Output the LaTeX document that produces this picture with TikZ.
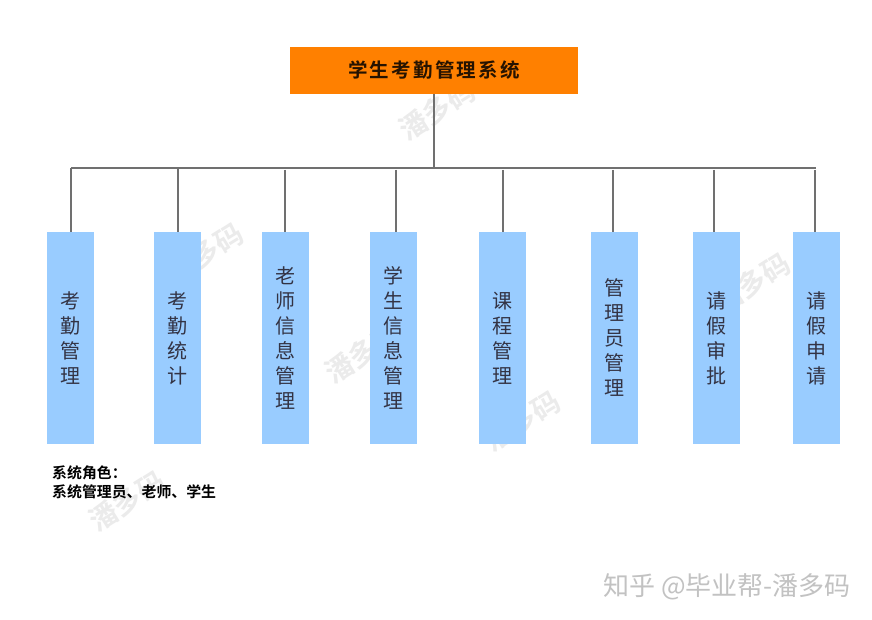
\documentclass[tikz,border=0pt]{standalone}
\usepackage{fontspec}
\setmainfont{Noto Sans CJK SC}
\newfontfamily\cjkbold{Noto Sans CJK SC Bold}
\definecolor{rootfill}{HTML}{FF8000}
\definecolor{leaffill}{HTML}{99CCFF}
\definecolor{linegray}{HTML}{707070}
\definecolor{leaftext}{HTML}{333344}
\definecolor{stampgray}{HTML}{EBEBEB}
\tikzset{
  rootbox/.style={fill=rootfill,minimum width=288pt,minimum height=47pt,inner sep=0pt,font=\cjkbold\fontsize{19.5pt}{24pt}\selectfont,text=black!85!rootfill},
  leafbox/.style={fill=leaffill,minimum width=47.5pt,minimum height=212pt,inner sep=0pt,align=center,text=leaftext,font=\fontsize{20pt}{25pt}\selectfont},
  conn/.style={draw=linegray,line width=1.5pt},
  stamp/.style={rotate=32,text=stampgray,font=\cjkbold\fontsize{28pt}{30pt}\selectfont,inner sep=0pt},
  note/.style={anchor=north west,align=left,inner sep=0pt,font=\cjkbold\fontsize{14.9pt}{19pt}\selectfont},
  credit/.style={text=black!24,inner sep=0pt,font=\fontsize{26pt}{28pt}\selectfont}
}
\begin{document}
\begin{tikzpicture}[x=1pt,y=-1pt]
\useasboundingbox (0,0) rectangle (872,620);
\fill[white] (0,0) rectangle (872,620);
\node[stamp] (s1) at (437,110) {潘多码};
\node[stamp] (s2) at (205,253) {潘多码};
\node[stamp] (s3) at (363,353) {潘多码};
\node[stamp] (s4) at (522,421) {潘多码};
\node[stamp] (s5) at (127,501) {潘多码};
\node[stamp] (s6) at (752,283) {潘多码};
\node[rootbox] (root) at (434,70.5) {学\kern2.2pt 生\kern2.2pt 考\kern2.2pt 勤\kern2.2pt 管\kern2.2pt 理\kern2.2pt 系\kern2.2pt 统};
\node[leafbox] (l1) at (70.5,338) {考\\勤\\管\\理};
\node[leafbox] (l2) at (177.5,338) {考\\勤\\统\\计};
\node[leafbox] (l3) at (285.5,338) {老\\师\\信\\息\\管\\理};
\node[leafbox] (l4) at (393.5,338) {学\\生\\信\\息\\管\\理};
\node[leafbox] (l5) at (502.5,338) {课\\程\\管\\理};
\node[leafbox] (l6) at (614.5,338) {管\\理\\员\\管\\理};
\node[leafbox] (l7) at (716.5,338) {请\\假\\审\\批};
\node[leafbox] (l8) at (816.5,338) {请\\假\\申\\请};
\coordinate (j) at (434,168);
\coordinate (b1) at (71,168);
\coordinate (b2) at (178,168);
\coordinate (b3) at (285,170);
\coordinate (b4) at (396,170);
\coordinate (b5) at (503,170);
\coordinate (b6) at (613,170);
\coordinate (b7) at (714,170);
\coordinate (b8) at (815,170);
\coordinate (e) at (816,168);
\draw[conn] (root.south) -- (j);
\draw[conn] (b1) -- (e);
\foreach \i in {1,...,8} \draw[conn] (b\i) -- (b\i |- l\i.north);
\node[note] (roles) at (52,465) {系统角色：\\系统管理员、老师、学生};
\node[credit] (c) at (727,587) {知乎 @毕业帮-潘多码};
\end{tikzpicture}
\end{document}
